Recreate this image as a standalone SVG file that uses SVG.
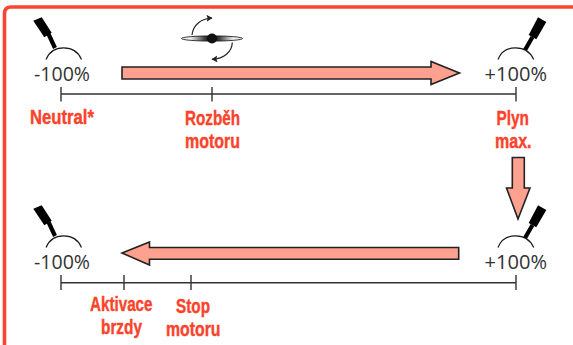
<svg xmlns="http://www.w3.org/2000/svg" width="573" height="345" viewBox="0 0 573 345">
<style>
.frame{fill:none;stroke:#fa4530;stroke-width:3.6}
.band{fill:#ffa18e;stroke:#222;stroke-width:1.6;stroke-linejoin:miter}
.axis{fill:none;stroke:#333;stroke-width:1.4}
.arc{fill:none;stroke:#1a1a1a;stroke-width:1.2}
.pct{font-family:"Open Sans","Noto Sans",sans-serif;font-size:20.500px;fill:#333}
.lab{font-family:"Liberation Sans",Arial,sans-serif;font-weight:700;font-size:20px;fill:#fa432b;stroke:#fa432b;stroke-width:0.4}
.thin{fill:none;stroke:#222;stroke-width:1.2}
</style>
<defs>
<linearGradient id="blade" x1="0" x2="1" y1="0" y2="0">
<stop offset="0" stop-color="#eee"/><stop offset="0.15" stop-color="#eee"/><stop offset="0.42" stop-color="#222"/><stop offset="0.58" stop-color="#222"/><stop offset="0.85" stop-color="#eee"/><stop offset="1" stop-color="#eee"/>
</linearGradient>
<marker id="tip" markerWidth="7" markerHeight="7" refX="5.500" refY="3.500" orient="auto" markerUnits="userSpaceOnUse"><path d="M0 0L6 3.500L0 7L1.200 3.500Z" fill="#222"/></marker>
<g id="leverL">
<path d="M33.300 20.700L41.700 17.300L51.700 32.700L44.300 37.300Z" fill="#000"/>
<path d="M48.500 34L55 48" stroke="#000" stroke-width="4.200" fill="none"/>
<path class="arc" d="M46 59.500C49 52 55 47.800 63.500 47.800C72 47.800 78.500 52 81.500 59.500"/>
</g>
<g id="leverR">
<path d="M538 17.300L546.300 22L536.300 39.300L528.700 35Z" fill="#000"/>
<path d="M532.500 37L525 50" stroke="#000" stroke-width="4.200" fill="none"/>
<path class="arc" d="M498 59.500C501 52 507 47.800 515.500 47.800C524 47.800 530.500 52 533.700 59.500"/>
</g>
</defs>
<path id="frame" class="frame" d="M573 7H11Q4.500 7 4.500 13.500V345"/>
<g id="connectors">
<path class="band" d="M122 67H431V61.500L459.500 73L431 84.500V79H122Z"/>
<path class="band" d="M512.300 157.500H524.300V188H530L518 219L506.500 188H512.300Z"/>
<path class="band" d="M458.700 247.500V259.300H149.500V265L122 253L149.500 242V247.500Z"/>
<path class="axis" d="M61 94H516M61 87V101.500M212 87V101.500M516 87V101.500"/>
<path class="axis" d="M61 282.700H516M61 275V290M124 275V290M191 275V290M516 275V290"/>
</g>
<g id="propeller">
<ellipse cx="212" cy="38.500" rx="30.500" ry="2.600" fill="url(#blade)" stroke="#222" stroke-width="0.900"/>
<circle cx="212" cy="38.500" r="5" fill="#111"/>
<path class="thin" d="M192 35C193 25 201 18.500 212 18" marker-end="url(#tip)"/>
<path class="thin" d="M232.300 42.500C232 52 224 58.500 212 59.300" marker-end="url(#tip)"/>
</g>
<g id="start-low">
<use href="#leverL"/>
<text class="pct" x="34" y="81" textLength="56" lengthAdjust="spacingAndGlyphs">-100%</text>
<text class="lab" x="30" y="124" textLength="64" lengthAdjust="spacingAndGlyphs">Neutral*</text>
</g>
<g id="motor-start">
<text class="lab" x="185" y="125" textLength="55" lengthAdjust="spacingAndGlyphs">Rozběh</text>
<text class="lab" x="185" y="148" textLength="55" lengthAdjust="spacingAndGlyphs">motoru</text>
</g>
<g id="start-high">
<use href="#leverR"/>
<text class="pct" x="484.500" y="80.500" textLength="62.500" lengthAdjust="spacingAndGlyphs">+100%</text>
<text class="lab" x="496.500" y="125" textLength="32.500" lengthAdjust="spacingAndGlyphs">Plyn</text>
<text class="lab" x="495" y="148" textLength="36.500" lengthAdjust="spacingAndGlyphs">max.</text>
</g>
<g id="end-low">
<use href="#leverL" y="188"/>
<text class="pct" x="34" y="269" textLength="56" lengthAdjust="spacingAndGlyphs">-100%</text>
</g>
<g id="end-high">
<use href="#leverR" y="188"/>
<text class="pct" x="484.500" y="268.500" textLength="62.500" lengthAdjust="spacingAndGlyphs">+100%</text>
</g>
<g id="brake">
<text class="lab" x="90" y="311" textLength="62.500" lengthAdjust="spacingAndGlyphs">Aktivace</text>
<text class="lab" x="101" y="334" textLength="41" lengthAdjust="spacingAndGlyphs">brzdy</text>
</g>
<g id="motor-stop">
<text class="lab" x="176" y="313" textLength="34" lengthAdjust="spacingAndGlyphs">Stop</text>
<text class="lab" x="166" y="336" textLength="54.500" lengthAdjust="spacingAndGlyphs">motoru</text>
</g>
</svg>
